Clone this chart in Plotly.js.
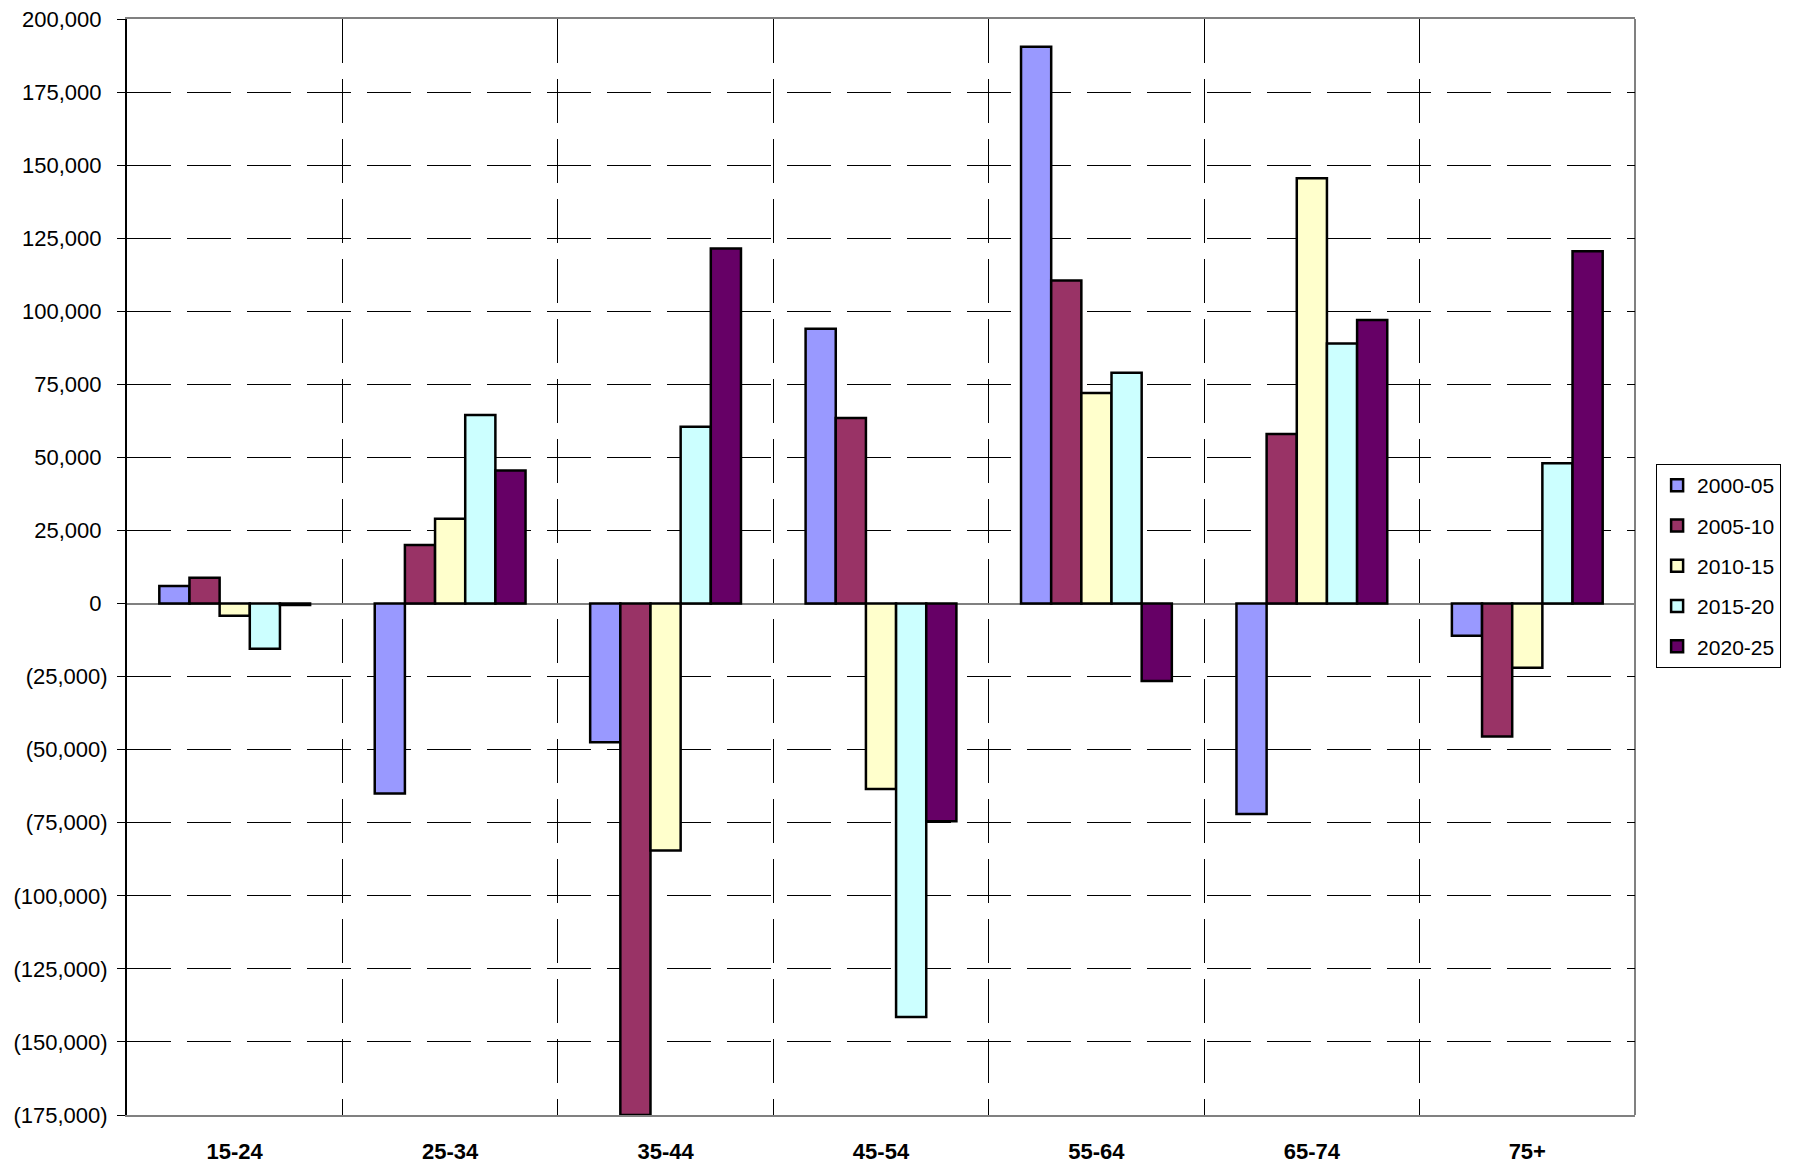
<!DOCTYPE html>
<html>
<head>
<meta charset="utf-8">
<script src="https://cdn.plot.ly/plotly-3.0.1.min.js"></script>
<style>
  body { margin: 0; background: #ffffff; }
  #chart { width: 1793px; height: 1170px; }
</style>
</head>
<body>
<div id="chart"></div>
<script>
// age groups along the x axis
var age_groups = ["15-24", "25-34", "35-44", "45-54", "55-64", "65-74", "75+"];

// change in each age group, one array per five-year period
var period_names = ["2000-05", "2005-10", "2010-15", "2015-20", "2020-25"];
var change_2000_05 = [6000, -65000, -47500, 94000, 190500, -72000, -11000];
var change_2005_10 = [8800, 20000, -175000, 63500, 110500, 58000, -45500];
var change_2010_15 = [-4200, 29000, -84500, -63500, 72000, 145500, -22000];
var change_2015_20 = [-15500, 64500, 60500, -141500, 79000, 89000, 48000];
var change_2020_25 = [-500, 45500, 121500, -74500, -26500, 97000, 120500];

var y_tick_vals = [-175000, -150000, -125000, -100000, -75000, -50000, -25000, 0,
                   25000, 50000, 75000, 100000, 125000, 150000, 175000, 200000];
var y_tick_labels = ["(175,000)", "(150,000)", "(125,000)", "(100,000)", "(75,000)", "(50,000)", "(25,000)", "0",
                     "25,000", "50,000", "75,000", "100,000", "125,000", "150,000", "175,000", "200,000"];

var bar_colors = ["#9999ff", "#993366", "#ffffcc", "#ccffff", "#660066"];
var all_changes = [change_2000_05, change_2005_10, change_2010_15, change_2015_20, change_2020_25];

var font_family = "Liberation Sans, Arial, sans-serif";

var data = [];
for (let i = 0; i < period_names.length; i++) {
    data.push({
	name : period_names[i],
	type : 'bar',
	x : age_groups,
	y : all_changes[i],
	legendgroup : period_names[i],
	marker : { color : bar_colors[i], line : { color : '#000000', width : 2.5 } },
	hoverinfo : 'x+y+name'
    });
}

// positive labels get a small pad so they line up like the bracketed ones
var y_tick_text = y_tick_labels.map(function(t) {
    return t.charAt(0) == "(" ? t : t + "\u2008";
});

var layout = {
    width : 1793,
    height : 1170,
    margin : { l : 127, r : 155, t : 19, b : 55 },
    paper_bgcolor : '#ffffff',
    plot_bgcolor : '#ffffff',
    font : { family : font_family, size : 22, color : '#000000' },
    barmode : 'group',
    bargap : 0.3,
    bargroupgap : 0,
    showlegend : true,
    xaxis : {
	type : 'category',
	tickson : 'boundaries',
	showgrid : true,
	gridcolor : '#000000',
	gridwidth : 1,
	griddash : '44px,16px',
	ticks : '',
	showline : true,
	linecolor : '#808080',
	linewidth : 2,
	mirror : true,
	tickfont : { family : font_family, size : 22, weight : 'bold', color : '#000000' },
	ticklabelstandoff : 16
    },
    yaxis : {
	range : [-175000, 200000],
	tickmode : 'array',
	tickvals : y_tick_vals,
	ticktext : y_tick_text,
	ticks : 'outside',
	ticklen : 8,
	tickwidth : 1,
	tickcolor : '#000000',
	showgrid : true,
	gridcolor : '#000000',
	gridwidth : 1,
	griddash : '44px,16px',
	zeroline : true,
	zerolinecolor : '#808080',
	zerolinewidth : 2,
	showline : true,
	linecolor : '#000000',
	linewidth : 2,
	tickfont : { family : font_family, size : 22, color : '#000000' },
	ticklabelstandoff : 5
    },
    legend : {
	x : 1.014,
	xanchor : 'left',
	y : 0.594,
	yanchor : 'top',
	bgcolor : '#ffffff',
	bordercolor : '#000000',
	borderwidth : 1,
	traceorder : 'grouped',
	tracegroupgap : 10,
	font : { family : font_family, size : 21, color : '#000000' }
    },
    shapes : [{
	type : 'line', xref : 'paper', yref : 'paper',
	x0 : 1, x1 : 1, y0 : 0, y1 : 1,
	line : { color : '#808080', width : 2 },
	layer : 'below'
    }]
};

Plotly.newPlot('chart', data, layout, { displayModeBar : false, staticPlot : true });
</script>
</body>
</html>
